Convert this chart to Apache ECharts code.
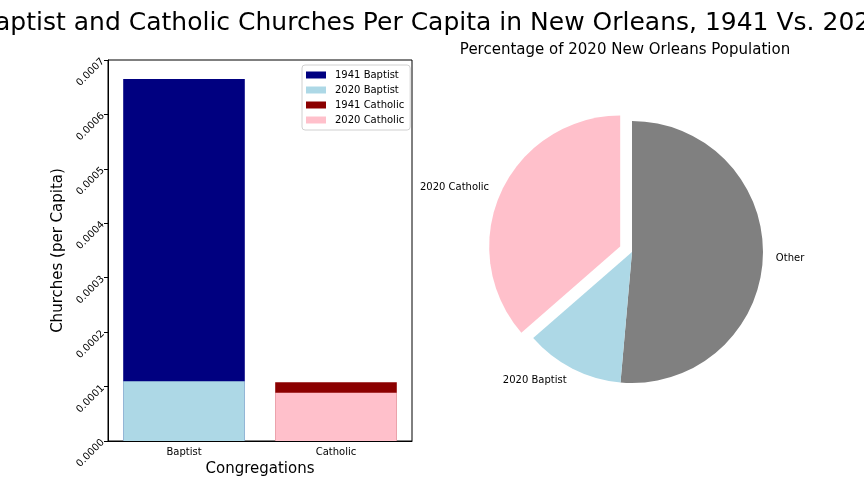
<!DOCTYPE html>
<html>
<head>
<meta charset="utf-8">
<script src="https://cdn.jsdelivr.net/npm/echarts@6/dist/echarts.min.js"></script>
<style>html,body{margin:0;padding:0;background:#fff}#c{width:864px;height:504px}</style>
</head>
<body>
<div id="c"></div>
<script>
var categories = ['Baptist', 'Catholic'];
var seriesNames = ['1941 Baptist', '2020 Baptist', '1941 Catholic', '2020 Catholic'];
var baptist1941 = [0.000665, null];
var baptist2020 = [0.000110, null];
var catholic1941 = [null, 0.000108];
var catholic2020 = [null, 0.0000885];
var pieLabels = ['Other', '2020 Baptist', '2020 Catholic'];
var pieValues = [51.4, 12.2, 36.4];

var font = 'DejaVu Sans';
var barColors = ['#000080', '#add8e6', '#8b0000', '#ffc0cb'];
var pieColors = ['#808080', '#add8e6', '#ffc0cb'];
var barData = [baptist1941, baptist2020, catholic1941, catholic2020];

var chart = echarts.init(document.getElementById('c'), null, {renderer: 'canvas'});
var barSeries = seriesNames.map(function (n, i) {
  return {
    name: n, type: 'bar', data: barData[i], barWidth: '80%', barGap: '-100%',
    itemStyle: {color: barColors[i]}, animation: false
  };
});
var pieData = pieLabels.map(function (n, i) {
  var d = {name: n, value: pieValues[i], itemStyle: {color: pieColors[i]}};
  if (n === '2020 Catholic') d.selected = true;
  return d;
});
chart.setOption({
  animation: false,
  textStyle: {fontFamily: font},
  title: [
    {text: 'Baptist and Catholic Churches Per Capita in New Orleans, 1941 Vs. 2020', left: 'center', top: 6,
     textStyle: {fontFamily: font, fontSize: 25, fontWeight: 'normal', color: '#000'}},
    {text: 'Percentage of 2020 New Orleans Population', left: 620, textAlign: 'center', top: 38,
     textStyle: {fontFamily: font, fontSize: 15, fontWeight: 'normal', color: '#000'}}
  ],
  legend: {
    data: seriesNames, orient: 'vertical', left: 302, top: 65, width: 105,
    itemWidth: 20, itemHeight: 7, itemGap: 5, padding: [5, 6, 5, 4],
    borderColor: '#d0d0d0', borderWidth: 1, borderRadius: 3,
    textStyle: {fontFamily: font, fontSize: 10, color: '#000', padding: [0, 0, 0, 4]},
    icon: 'rect', selectedMode: false
  },
  grid: {left: 108, top: 60, width: 304, height: 381, show: true, borderColor: '#000', borderWidth: 1, containLabel: false},
  xAxis: {
    type: 'category', data: categories,
    axisLine: {lineStyle: {color: '#000'}},
    axisTick: {alignWithLabel: true, length: 4, lineStyle: {color: '#000'}},
    axisLabel: {fontFamily: font, fontSize: 10, color: '#000', margin: 6},
    name: 'Congregations', nameLocation: 'middle', nameGap: 20,
    nameTextStyle: {fontFamily: font, fontSize: 15, color: '#000'}
  },
  yAxis: {
    type: 'value', min: 0, max: 0.0007, interval: 0.0001,
    splitLine: {show: false},
    axisLine: {show: true, lineStyle: {color: '#000'}},
    axisTick: {show: true, length: 4, lineStyle: {color: '#000'}},
    axisLabel: {fontFamily: font, fontSize: 10, color: '#000', rotate: 45, margin: 5,
      formatter: function (v) { return v.toFixed(4); }},
    name: 'Churches (per Capita)', nameLocation: 'middle', nameGap: 42, nameRotate: 90,
    nameTextStyle: {fontFamily: font, fontSize: 15, color: '#000'}
  },
  series: barSeries.concat([{
    type: 'pie', center: [632, 252], radius: 131, startAngle: 90, clockwise: true,
    selectedMode: 'multiple', selectedOffset: 13, avoidLabelOverlap: false,
    data: pieData,
    label: {show: true, position: 'outside', fontFamily: font, fontSize: 10, color: '#000', distanceToLabelLine: 0},
    labelLine: {show: false, length: 13, length2: 0},
    emphasis: {disabled: true},
    itemStyle: {borderWidth: 0},
    animation: false
  }])
});
</script>
</body>
</html>
